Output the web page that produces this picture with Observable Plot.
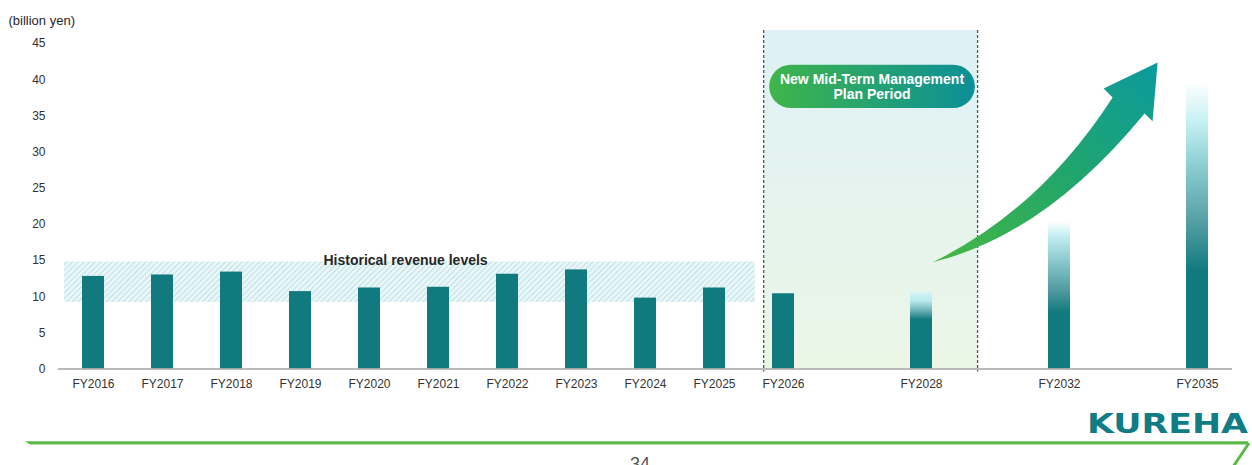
<!DOCTYPE html>
<html>
<head>
<meta charset="utf-8">
<script src="https://cdn.jsdelivr.net/npm/d3@7"></script>
<script src="https://cdn.jsdelivr.net/npm/@observablehq/plot@0.6"></script>
<style>
  body { margin: 0; background: #fff; width: 1252px; height: 465px; overflow: hidden; font-family: "Liberation Sans", Arial, sans-serif; }
  svg { display: block; }
</style>
</head>
<body>
<svg width="0" height="0" style="position:absolute">
  <defs>
    <linearGradient id="periodGrad" x1="0" y1="0" x2="0" y2="1">
      <stop offset="0" stop-color="#dff1f6"/>
      <stop offset="1" stop-color="#ebf6e6"/>
    </linearGradient>
    <pattern id="hatch" width="4" height="4" patternUnits="userSpaceOnUse" patternTransform="rotate(45)">
      <rect width="4" height="4" fill="#eaf6f8"/>
      <line x1="0" y1="0" x2="0" y2="4" stroke="#b0dde5" stroke-width="1.6"/>
    </pattern>
    <linearGradient id="g2028" x1="0" y1="0" x2="0" y2="1">
      <stop offset="0" stop-color="#d6f5f8"/>
      <stop offset="0.12" stop-color="#b8e9ee"/>
      <stop offset="0.24" stop-color="#6fb3b8"/>
      <stop offset="0.36" stop-color="#117a7f"/>
      <stop offset="1" stop-color="#117a7f"/>
    </linearGradient>
    <linearGradient id="g2032" x1="0" y1="0" x2="0" y2="1">
      <stop offset="0" stop-color="#ffffff"/>
      <stop offset="0.09" stop-color="#c6f0f3"/>
      <stop offset="0.30" stop-color="#80c2c6"/>
      <stop offset="0.47" stop-color="#4f9a9f"/>
      <stop offset="0.62" stop-color="#117a7f"/>
      <stop offset="1" stop-color="#117a7f"/>
    </linearGradient>
    <linearGradient id="g2035" x1="0" y1="0" x2="0" y2="1">
      <stop offset="0" stop-color="#ffffff"/>
      <stop offset="0.14" stop-color="#c6f0f3"/>
      <stop offset="0.29" stop-color="#8ccfd3"/>
      <stop offset="0.47" stop-color="#5aa3a7"/>
      <stop offset="0.66" stop-color="#117a7f"/>
      <stop offset="1" stop-color="#117a7f"/>
    </linearGradient>
    <linearGradient id="pillGrad" x1="0" y1="0" x2="1" y2="0">
      <stop offset="0" stop-color="#3fb54a"/>
      <stop offset="1" stop-color="#0c8f98"/>
    </linearGradient>
    <linearGradient id="arrowGrad" x1="0" y1="1" x2="1" y2="0">
      <stop offset="0" stop-color="#46b842"/>
      <stop offset="0.5" stop-color="#22a66a"/>
      <stop offset="1" stop-color="#0b9a9e"/>
    </linearGradient>
  </defs>
</svg>
<div id="chart"></div>
<svg id="footer" width="1252" height="65" style="overflow:hidden">
  <path d="M25,41.2 L1248,41.2 L1248,44.4 L30,44.4 Z" fill="#5cb947"/>
  <line x1="1249" y1="43" x2="1233" y2="67" stroke="#5cb947" stroke-width="3"/>
  <text x="1087" y="32.7" font-family="'DejaVu Sans', 'Liberation Sans', Arial, sans-serif" font-weight="bold" font-size="27" fill="#107c84" textLength="161" lengthAdjust="spacingAndGlyphs">KUREHA</text>
  <text x="640" y="70" text-anchor="middle" font-family="'Liberation Sans', Arial, sans-serif" font-size="18" fill="#555">34</text>
</svg>
<script>
// ---- data ----
const categories = ["FY2016","FY2017","FY2018","FY2019","FY2020","FY2021","FY2022","FY2023","FY2024","FY2025","FY2026","FY2028","FY2032","FY2035"];
const values     = [12.8, 13.0, 13.4, 10.7, 11.2, 11.3, 13.1, 13.7, 9.8, 11.2, 10.4, 10.6, 20.3, 39.6];
const isOutlook  = [false,false,false,false,false,false,false,false,false,false,false,true,true,true];
// x slots (blank slots keep the irregular spacing between outlook years)
const slots = ["FY2016","FY2017","FY2018","FY2019","FY2020","FY2021","FY2022","FY2023","FY2024","FY2025","FY2026"," ","FY2028","  ","FY2032","   ","FY2035"];
const yTicks = [0, 5, 10, 15, 20, 25, 30, 35, 40, 45];
const historicalRange = [9.2, 14.8];
const yLabel = "(billion yen)";
const historicalLabel = "Historical revenue levels";
const planLabel = ["New Mid-Term Management", "Plan Period"];

const rows = categories.map((c, i) => ({cat: c, value: values[i], outlook: isOutlook[i]}));
const actual = rows.filter(d => !d.outlook);
const outlook = rows.filter(d => d.outlook);

const FONT = "'Liberation Sans', Arial, Helvetica, sans-serif";

// slot position helper (in units of slots, from first band center)
function slotX(x) {
  return s => x(slots[0]) + x.bandwidth() / 2 + s * x.step();
}

function background(index, scales) {
  const {x, y} = scales;
  const sx = slotX(x);
  const g = d3.create("svg:g");
  const periodTop = 46.8;
  g.append("rect")
    .attr("x", sx(9.72)).attr("width", sx(12.82) - sx(9.72))
    .attr("y", y(periodTop)).attr("height", y(0) - y(periodTop))
    .attr("fill", "url(#periodGrad)");
  g.append("rect")
    .attr("x", sx(-0.42)).attr("width", sx(9.59) - sx(-0.42))
    .attr("y", y(historicalRange[1])).attr("height", y(historicalRange[0]) - y(historicalRange[1]))
    .attr("fill", "url(#hatch)");
  return g.node();
}

function foreground(index, scales) {
  const {x, y} = scales;
  const sx = slotX(x);
  const g = d3.create("svg:g");
  const periodTop = 46.8;
  // dashed boundaries of plan period
  for (const s of [9.72, 12.82]) {
    g.append("line")
      .attr("x1", sx(s)).attr("x2", sx(s))
      .attr("y1", y(periodTop)).attr("y2", y(0) + 3)
      .attr("stroke", "#555").attr("stroke-width", 1.3)
      .attr("stroke-dasharray", "3,2");
  }
  // historical label
  g.append("text")
    .attr("x", sx(4.53)).attr("y", y(14.95))
    .attr("dy", "0.35em")
    .attr("text-anchor", "middle")
    .attr("font-family", FONT).attr("font-weight", "bold").attr("font-size", 14)
    .attr("fill", "#262626")
    .text(historicalLabel);
  // pill
  const px1 = sx(9.8), px2 = sx(12.78), py1 = y(42.0), py2 = y(36.0);
  g.append("rect")
    .attr("x", px1).attr("y", py1).attr("width", px2 - px1).attr("height", py2 - py1)
    .attr("rx", (py2 - py1) / 2).attr("fill", "url(#pillGrad)");
  const cx = (px1 + px2) / 2, cy = (py1 + py2) / 2;
  planLabel.forEach((t, i) => {
    g.append("text")
      .attr("x", cx).attr("y", cy + (i - 0.5) * 15)
      .attr("dy", "0.35em")
      .attr("text-anchor", "middle")
      .attr("font-family", FONT).attr("font-weight", "bold").attr("font-size", 14)
      .attr("fill", "#fff")
      .text(t);
  });
  // growth arrow
  const P = (s, v) => `${sx(s)},${y(v)}`;
  const d = `M${P(12.171, 14.70)} Q${P(13.72, 21.88)} ${P(14.777, 37.48)} L${P(14.647, 38.72)} L${P(15.429, 42.31)} L${P(15.356, 34.17)} L${P(15.24, 35.27)} Q${P(13.792, 18.43)} ${P(12.171, 14.70)} Z`;
  g.append("path").attr("d", d).attr("fill", "url(#arrowGrad)");
  return g.node();
}

const gradientFor = {FY2028: "url(#g2028)", FY2032: "url(#g2032)", FY2035: "url(#g2035)"};

const chart = Plot.plot({
  width: 1252,
  height: 400,
  marginLeft: 58,
  marginRight: 20,
  marginTop: 43,
  marginBottom: 31.5,
  style: {fontFamily: FONT, fontSize: "12px", color: "#333", background: "transparent"},
  x: {domain: slots, paddingInner: 0.686, paddingOuter: 0.343, label: null, axis: null},
  y: {domain: [0, 45], label: null, axis: null},
  marks: [
    background,
    Plot.barY(actual, {x: "cat", y: "value", fill: "#117a7f"}),
    ...outlook.map(d => Plot.barY([d], {x: "cat", y: "value", fill: gradientFor[d.cat]})),
    Plot.ruleY([0], {stroke: "#a3a3a3", strokeWidth: 1.4}),
    Plot.axisX(categories, {tickSize: 0, tickPadding: 10, fontSize: 12, fill: "#333", label: null}),
    Plot.axisY(yTicks, {tickSize: 0, tickPadding: 13, fontSize: 12, fill: "#333", label: null}),
    Plot.text([yLabel], {frameAnchor: "top-left", dx: -50, dy: -28, textAnchor: "start", fontSize: 13, fill: "#262626"}),
    foreground
  ]
});
document.getElementById("chart").appendChild(chart);
</script>
</body>
</html>
